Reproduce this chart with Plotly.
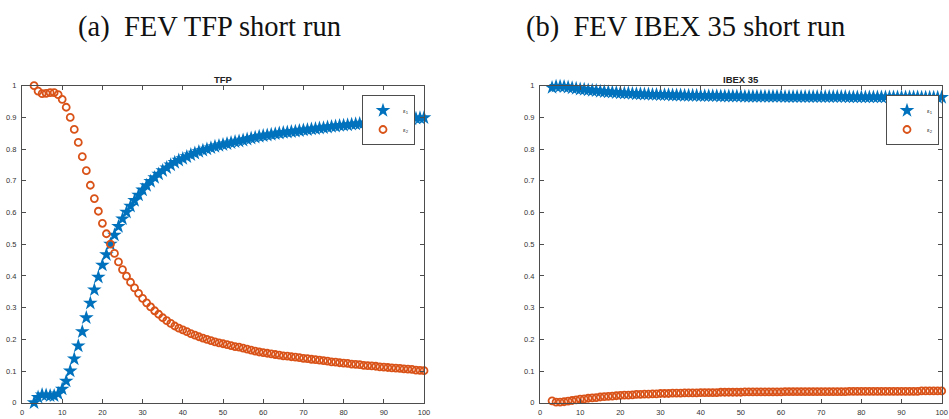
import plotly.graph_objects as go

horizon = list(range(3, 101))

tfp_e1 = [0.000, 0.017, 0.025, 0.024, 0.022, 0.022, 0.028, 0.043, 0.068, 0.100,
          0.138, 0.179, 0.224, 0.268, 0.314, 0.356, 0.396, 0.434, 0.467, 0.500,
          0.529, 0.556, 0.580, 0.601,
          0.620, 0.638, 0.655, 0.671, 0.685, 0.698, 0.710, 0.721, 0.732, 0.741,
          0.750, 0.758, 0.765, 0.770, 0.776, 0.782, 0.787, 0.792, 0.796, 0.800,
          0.804, 0.808, 0.811, 0.814, 0.817, 0.820, 0.823, 0.825, 0.828, 0.831,
          0.834, 0.837, 0.840, 0.842, 0.844, 0.846, 0.848, 0.850, 0.852, 0.853,
          0.855, 0.856, 0.858, 0.860, 0.861, 0.863, 0.864, 0.866, 0.867, 0.869,
          0.871, 0.872, 0.874, 0.875, 0.876, 0.878, 0.879, 0.880, 0.882, 0.883,
          0.884, 0.885, 0.887, 0.888, 0.889, 0.890, 0.891, 0.892, 0.893, 0.894,
          0.895, 0.897, 0.898, 0.899]

tfp_e2 = [1.000, 0.983, 0.975, 0.976, 0.978, 0.978, 0.972, 0.957, 0.932, 0.900,
          0.862, 0.821, 0.776, 0.732, 0.686, 0.644, 0.604, 0.566, 0.533, 0.500,
          0.471, 0.444, 0.420, 0.399,
          0.380, 0.362, 0.345, 0.329, 0.315, 0.302, 0.290, 0.279, 0.268, 0.259,
          0.250, 0.242, 0.235, 0.230, 0.224, 0.218, 0.213, 0.208, 0.204, 0.200,
          0.196, 0.192, 0.189, 0.186, 0.183, 0.180, 0.177, 0.175, 0.172, 0.169,
          0.166, 0.163, 0.160, 0.158, 0.156, 0.154, 0.152, 0.150, 0.148, 0.147,
          0.145, 0.144, 0.142, 0.140, 0.139, 0.137, 0.136, 0.134, 0.133, 0.131,
          0.129, 0.128, 0.126, 0.125, 0.124, 0.122, 0.121, 0.120, 0.118, 0.117,
          0.116, 0.115, 0.113, 0.112, 0.111, 0.110, 0.109, 0.108, 0.107, 0.106,
          0.105, 0.103, 0.102, 0.101]

ibex_e1 = [0.994, 0.998, 0.998, 0.997, 0.995, 0.993, 0.991, 0.989, 0.988, 0.986,
           0.985, 0.984, 0.982, 0.981, 0.980, 0.979, 0.978, 0.977, 0.976, 0.976,
           0.975, 0.974, 0.974, 0.973, 0.973, 0.972, 0.972, 0.971, 0.971, 0.971,
           0.970, 0.970, 0.970, 0.969, 0.969, 0.969, 0.969, 0.968, 0.968, 0.968,
           0.968, 0.968, 0.967, 0.967, 0.967, 0.967, 0.967, 0.967, 0.966, 0.966,
           0.966, 0.966, 0.966, 0.966, 0.966, 0.966, 0.966, 0.966, 0.965, 0.965,
           0.965, 0.965, 0.965, 0.965, 0.965, 0.965, 0.965, 0.965, 0.965, 0.965,
           0.965, 0.965, 0.965, 0.965, 0.964, 0.964, 0.964, 0.964, 0.964, 0.964,
           0.964, 0.964, 0.964, 0.964, 0.964, 0.964, 0.964, 0.964, 0.964, 0.964,
           0.964, 0.964, 0.963, 0.963, 0.963, 0.963, 0.963, 0.963]

ibex_e2 = [0.006, 0.002, 0.002, 0.003, 0.005, 0.007, 0.009, 0.011, 0.012, 0.014,
           0.015, 0.016, 0.018, 0.019, 0.020, 0.021, 0.022, 0.023, 0.024, 0.024,
           0.025, 0.026, 0.026, 0.027, 0.027, 0.028, 0.028, 0.029, 0.029, 0.029,
           0.030, 0.030, 0.030, 0.031, 0.031, 0.031, 0.031, 0.032, 0.032, 0.032,
           0.032, 0.032, 0.033, 0.033, 0.033, 0.033, 0.033, 0.033, 0.034, 0.034,
           0.034, 0.034, 0.034, 0.034, 0.034, 0.034, 0.034, 0.034, 0.035, 0.035,
           0.035, 0.035, 0.035, 0.035, 0.035, 0.035, 0.035, 0.035, 0.035, 0.035,
           0.035, 0.035, 0.035, 0.035, 0.036, 0.036, 0.036, 0.036, 0.036, 0.036,
           0.036, 0.036, 0.036, 0.036, 0.036, 0.036, 0.036, 0.036, 0.036, 0.036,
           0.036, 0.036, 0.037, 0.037, 0.037, 0.037, 0.037, 0.037]

panel_titles = ["TFP", "IBEX 35"]
captions = ["(a)  FEV TFP short run", "(b)  FEV IBEX 35 short run"]
series_names = ["ε<sub>1</sub>", "ε<sub>2</sub>"]
x_ticks = [0, 10, 20, 30, 40, 50, 60, 70, 80, 90, 100]
y_ticks = [0, 0.1, 0.2, 0.3, 0.4, 0.5, 0.6, 0.7, 0.8, 0.9, 1]
y_tick_text = ["0", "0.1", "0.2", "0.3", "0.4", "0.5", "0.6", "0.7", "0.8", "0.9", "1"]

BLUE = "#0072BD"
ORANGE = "#D95319"
AX = "#4d4d4d"
W, H = 949, 419

x_domains = [[22 / W, 424 / W], [540 / W, 941.7 / W]]
y_domain = [1 - 402.7 / H, 1 - 85.7 / H]

fig = go.Figure()
data = [(tfp_e1, tfp_e2), (ibex_e1, ibex_e2)]
for i, (e1, e2) in enumerate(data):
    xa = "x" if i == 0 else "x2"
    ya = "y" if i == 0 else "y2"
    lg = "legend" if i == 0 else "legend2"
    fig.add_trace(go.Scatter(
        x=horizon, y=e1, mode="markers", name=series_names[0],
        xaxis=xa, yaxis=ya, legend=lg, cliponaxis=False,
        marker=dict(symbol="star", size=11, color=BLUE,
                    line=dict(width=0))))
    fig.add_trace(go.Scatter(
        x=horizon, y=e2, mode="markers", name=series_names[1],
        xaxis=xa, yaxis=ya, legend=lg, cliponaxis=False,
        marker=dict(symbol="circle-open", size=7, color=ORANGE,
                    line=dict(width=1.8, color=ORANGE))))

axis_common = dict(
    showline=True, linecolor=AX, linewidth=1, mirror="ticks",
    ticks="inside", ticklen=4, tickwidth=1, tickcolor=AX,
    showgrid=False, zeroline=False, automargin=False,
    tickfont=dict(family="Liberation Sans, Arial, sans-serif", size=7.5, color="#333"),
)

layout = dict(
    width=W, height=H,
    margin=dict(l=0, r=0, t=0, b=0),
    paper_bgcolor="white", plot_bgcolor="white",
    showlegend=True,
)
for i in range(2):
    sx = "" if i == 0 else "2"
    layout["xaxis" + sx] = dict(axis_common, domain=x_domains[i], range=[0, 100],
                                tickvals=x_ticks, anchor="y" + sx, ticklabelstandoff=2)
    layout["yaxis" + sx] = dict(axis_common, domain=y_domain, range=[0, 1],
                                tickvals=y_ticks, ticktext=y_tick_text, anchor="x" + sx,
                                ticklabelstandoff=3)

leg_common = dict(
    bgcolor="white", bordercolor=AX, borderwidth=1,
    font=dict(family="Liberation Sans, Arial, sans-serif", size=6, color="#333"),
    xanchor="right", yanchor="top", itemwidth=30, tracegroupgap=0,
)
layout["legend"] = dict(leg_common, x=415 / W, y=1 - 95 / H)
layout["legend2"] = dict(leg_common, x=939 / W, y=1 - 95 / H)

fig.update_layout(**layout)

annotations = []
for i in range(2):
    cx = (x_domains[i][0] + x_domains[i][1]) / 2
    annotations.append(dict(
        text="<b>" + panel_titles[i] + "</b>", x=cx, y=y_domain[1], xref="paper", yref="paper",
        xanchor="center", yanchor="bottom", yshift=-1, showarrow=False,
        font=dict(family="Liberation Sans, Arial, sans-serif", size=9.5, color="#222")))
caption_x = [209.5 / W, 685 / W]
for i in range(2):
    annotations.append(dict(
        text=captions[i], x=caption_x[i], y=1 - 27 / H, xref="paper", yref="paper",
        xanchor="center", yanchor="middle", showarrow=False,
        font=dict(family="Liberation Serif, Times New Roman, serif", size=28.5, color="#111")))
fig.update_layout(annotations=annotations)

fig.write_html("out.html")
